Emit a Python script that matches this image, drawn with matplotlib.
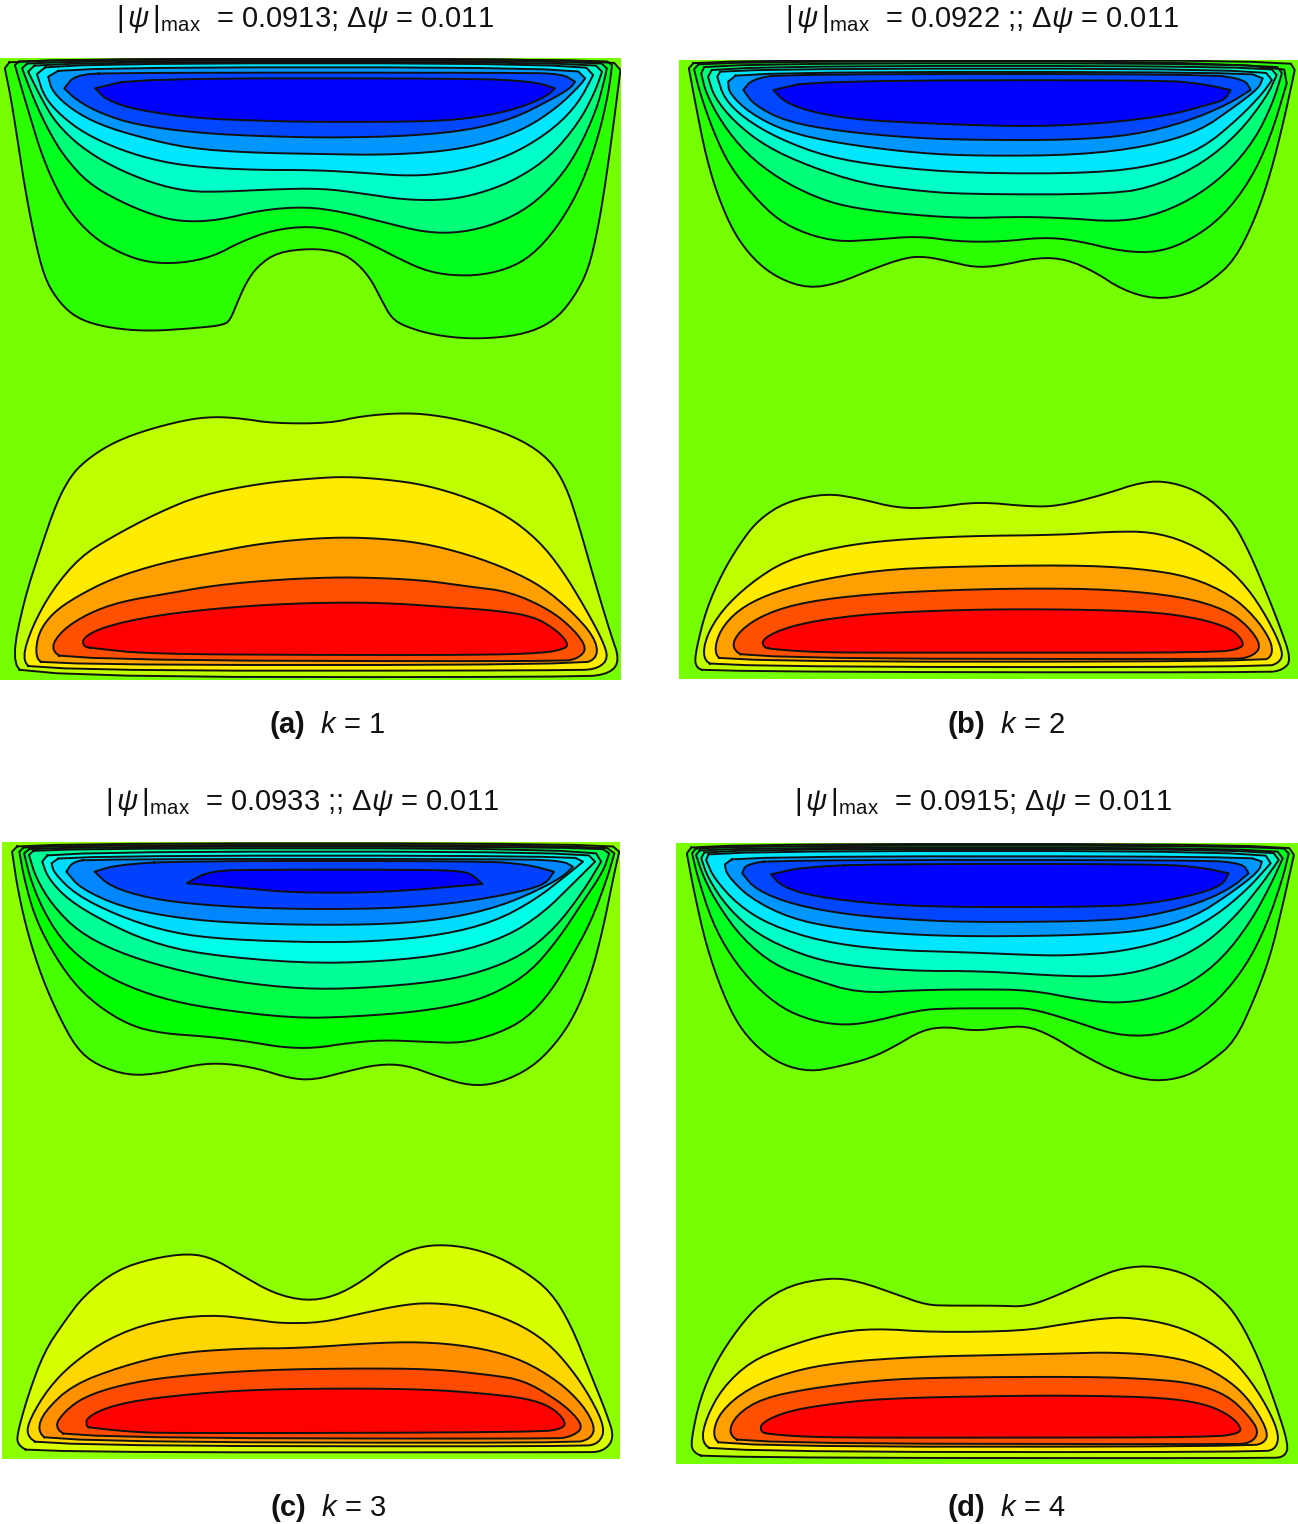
import numpy as np
import matplotlib
matplotlib.use('Agg')
import matplotlib.pyplot as plt

plt.rcParams['font.family'] = ['Liberation Sans', 'DejaVu Sans']
plt.rcParams['mathtext.fontset'] = 'custom'
plt.rcParams['mathtext.rm'] = 'Liberation Sans'
plt.rcParams['mathtext.it'] = 'Liberation Sans:italic'
plt.rcParams['mathtext.bf'] = 'Liberation Sans:bold'

W, H = 1298, 1524

a_top = [
    [(30,26),(12,55),(25,130),(40,240),(60,400),(85,560),(110,680),(140,745),(180,795),(230,822),(300,838),(380,843),(480,835),(560,825),(575,805),(590,760),(612,700),(640,650),(690,607),(775,595),(840,605),(880,630),(920,680),(950,750),(975,805),(1010,830),(1080,855),(1170,867),(1270,860),(1340,838),(1390,800),(1430,740),(1465,660),(1490,530),(1510,380),(1528,220),(1545,60),(1520,26)],
    [(55,28),(37,45),(55,120),(75,200),(100,300),(130,390),(170,480),(230,560),(300,610),(370,638),(450,640),(530,620),(600,575),(680,540),(770,528),(850,545),(920,580),(1000,630),(1060,662),(1120,676),(1200,676),(1280,650),(1340,600),(1400,510),(1450,400),(1490,260),(1515,130),(1524,45),(1505,28)],
    [(75,32),(55,55),(85,150),(120,240),(160,320),(220,400),(300,455),(380,495),(450,515),(540,512),(650,480),(760,470),(850,485),(950,515),(1060,548),(1150,548),(1240,520),(1320,470),(1390,390),(1440,300),(1485,180),(1505,90),(1511,55),(1490,32)],
    [(95,36),(70,65),(105,150),(140,220),(200,290),(280,350),(380,400),(470,425),(560,425),(680,418),(800,415),(900,430),(1010,450),(1120,450),(1210,425),(1290,385),(1370,320),(1440,220),(1480,130),(1499,65),(1475,36)],
    [(125,40),(92,72),(110,140),(150,195),(210,250),(300,300),(400,335),(500,352),(640,360),(780,360),(900,368),(1010,378),(1100,372),(1190,350),(1290,305),(1380,235),(1440,160),(1477,75),(1450,40)],
    [(160,52),(120,80),(130,125),(180,180),(250,225),(350,262),(470,295),(620,308),(800,312),(950,315),(1100,305),(1210,280),(1310,235),(1390,170),(1445,105),(1457,85),(1430,52)],
    [(280,68),(187,75),(160,115),(190,150),(250,190),(340,225),(500,250),(680,260),(840,263),(1020,258),(1170,240),(1280,205),(1370,150),(1420,115),(1432,95),(1400,72),(1300,68)],
    [(340,85),(237,115),(265,150),(340,180),(490,205),(640,212),(780,216),(1080,215),(1200,200),(1290,175),(1360,140),(1382,115),(1330,95),(1180,85)],
]
a_bottom = [
    [(60,830),(30,775),(60,600),(100,450),(140,310),(175,230),(210,185),(270,135),(350,95),(460,60),(530,50),(600,55),(680,70),(820,70),(900,48),(1010,38),(1100,48),(1200,75),(1300,120),(1370,180),(1410,260),(1440,370),(1480,540),(1520,700),(1543,780),(1520,820),(1450,832)],
    [(80,812),(55,775),(80,680),(130,570),(200,470),(280,410),(390,340),(500,285),(650,250),(780,235),(860,230),(960,238),(1060,255),(1170,295),(1260,345),(1340,420),(1400,510),(1460,630),(1500,720),(1515,775),(1490,805),(1440,812)],
    [(110,795),(88,770),(95,700),(130,640),(190,590),(280,535),(400,490),(520,460),(650,430),(800,413),(920,413),(1050,428),(1170,465),(1270,510),(1350,560),(1420,630),(1480,710),(1490,770),(1450,795)],
    [(160,780),(125,745),(155,690),(220,640),(300,605),(420,580),(540,555),(680,540),(800,533),(900,532),(1050,540),(1170,560),(1270,575),(1370,630),(1430,690),(1462,745),(1440,775),(1400,785)],
    [(235,745),(207,740),(207,712),(260,680),(370,650),(500,630),(650,615),(800,608),(950,608),(1100,620),(1240,632),(1330,650),(1385,690),(1412,725),(1412,745),(1350,760),(1180,765),(800,765),(370,762)],
]
b_top = [
    [(65,30),(47,55),(65,170),(90,320),(120,440),(160,550),(210,630),(270,685),(345,715),(420,700),(510,655),(590,622),(640,620),(700,635),(760,652),(820,648),(920,622),(990,628),(1060,665),(1130,720),(1210,748),(1290,735),(1350,695),(1410,630),(1460,510),(1500,370),(1535,200),(1560,60),(1545,30)],
    [(78,34),(60,58),(75,130),(110,250),(150,350),(210,440),(270,510),(340,552),(420,575),(500,570),(620,558),(720,575),(830,575),(930,562),(1010,570),(1130,605),(1220,607),(1300,570),(1380,500),(1450,390),(1500,260),(1540,100),(1530,34)],
    [(90,40),(78,70),(90,130),(130,220),(190,310),(270,385),(360,440),(440,470),(560,490),(730,505),(880,500),(1000,505),(1110,515),(1200,500),(1300,450),(1390,370),(1460,270),(1505,160),(1528,70),(1510,40)],
    [(110,48),(95,80),(110,140),(160,215),(240,290),(350,350),(480,400),(600,420),(730,433),(1110,433),(1220,405),(1330,340),(1420,250),(1490,140),(1515,75),(1495,48)],
    [(130,56),(118,80),(135,145),(185,205),(270,265),(390,320),(540,350),(750,370),(1060,370),(1220,345),(1330,295),(1420,205),(1480,130),(1503,90),(1480,56)],
    [(175,66),(145,95),(148,130),(200,190),(290,245),(420,280),(620,310),(780,318),(1020,315),(1190,290),(1320,245),(1410,170),(1470,115),(1480,85),(1440,66)],
    [(280,72),(205,88),(183,120),(210,165),(290,215),(430,245),(620,265),(780,270),(1000,270),(1160,255),(1290,215),(1390,165),(1450,120),(1435,88),(1340,72)],
    [(360,92),(258,120),(285,155),(350,185),(460,208),(600,218),(820,228),(950,228),(1100,218),(1250,195),(1340,165),(1385,150),(1400,120),(1330,102),(1230,90)],
]
b_bottom = [
    [(90,605),(62,590),(65,540),(90,420),(130,310),(175,220),(220,150),(290,95),(390,70),(470,85),(570,115),(660,113),(770,95),(900,110),(970,108),(1080,75),(1180,35),(1250,35),(1330,70),(1400,145),(1440,230),(1480,340),(1520,460),(1552,570),(1530,600),(1490,608)],
    [(110,590),(82,565),(90,500),(130,420),(200,340),(290,270),(420,230),(550,210),(740,198),(970,195),(1100,185),(1200,185),(1290,215),(1380,280),(1440,350),(1490,440),(1530,540),(1525,575),(1490,592)],
    [(130,575),(110,545),(125,480),(170,420),(240,375),(350,335),(520,300),(700,290),(1000,285),(1170,295),(1300,320),(1400,375),(1460,440),(1500,510),(1505,555),(1480,575)],
    [(190,565),(152,532),(175,480),(240,430),(340,395),(500,372),(700,360),(900,355),(1100,358),(1280,380),(1390,420),(1445,470),(1478,530),(1450,562),(1400,568)],
    [(250,537),(232,530),(232,505),(295,470),(400,445),(540,428),(770,418),(1000,418),(1200,425),(1320,445),(1400,475),(1430,510),(1430,535),(1360,548),(800,548),(440,548),(340,545)],
]
c_top = [
    [(50,25),(30,50),(45,170),(70,300),(105,430),(145,540),(190,640),(240,690),(320,722),(400,715),(490,688),(560,685),(640,700),(720,730),(780,735),(860,710),(940,688),(1010,690),(1090,725),(1170,753),(1240,745),(1320,700),(1380,630),(1430,540),(1470,420),(1500,280),(1525,130),(1540,50),(1515,25)],
    [(65,30),(48,50),(60,130),(85,240),(125,340),(180,440),(240,510),(320,570),(400,595),(520,605),(620,620),(700,637),(780,640),(860,625),(950,615),(1050,620),(1150,625),(1240,595),(1310,550),(1370,470),(1420,370),(1470,260),(1510,130),(1528,55),(1500,30)],
    [(80,35),(60,55),(75,130),(105,220),(150,310),(210,380),(290,440),(400,490),(520,520),(730,550),(880,545),(1040,530),(1160,505),(1240,470),(1320,410),(1390,310),(1450,200),(1500,110),(1515,55),(1490,35)],
    [(90,40),(72,60),(90,130),(130,210),(195,290),(290,350),(420,400),(580,440),(750,462),(900,460),(1090,440),(1200,410),(1300,360),(1380,280),(1450,170),(1495,80),(1475,40)],
    [(125,50),(105,80),(120,130),(170,195),(260,260),(370,320),(500,358),(750,385),(950,380),(1130,355),(1260,305),(1350,235),(1430,140),(1480,80),(1455,50)],
    [(155,62),(128,85),(135,115),(190,180),(290,240),(400,285),(520,310),(750,322),(930,320),(1100,300),(1230,260),(1330,195),(1410,120),(1450,80),(1420,62)],
    [(220,72),(180,82),(165,110),(200,160),(300,215),(420,245),(550,262),(750,270),(970,268),(1120,250),(1240,215),(1330,170),(1400,125),(1425,95),(1400,78),(1290,72)],
    [(440,78),(290,90),(235,110),(275,155),(370,190),(500,210),(700,222),(930,222),(1090,210),(1210,190),(1310,165),(1358,145),(1378,110),(1310,88),(1200,78)],
    [(525,107),(470,140),(465,145),(610,160),(730,173),(950,173),(1200,147),(1180,125),(1155,108),(1030,104),(650,104)],
]
c_bottom = [
    [(75,652),(45,630),(42,600),(70,480),(110,350),(160,260),(210,180),(290,105),(380,70),(470,55),(530,70),(600,120),(680,175),(760,198),(830,185),(900,140),(980,65),(1050,32),(1130,30),(1220,55),(1300,105),(1370,170),(1420,270),(1470,420),(1510,540),(1528,610),(1500,650),(1450,652)],
    [(100,632),(65,600),(75,550),(120,460),(180,385),(270,310),(380,260),(520,238),(640,255),(700,265),(800,263),(900,235),(1000,210),(1070,203),(1170,215),(1280,260),(1360,320),(1420,400),(1470,490),(1505,580),(1490,625),(1450,635)],
    [(120,620),(93,585),(110,530),(180,450),(300,395),(430,355),(600,340),(740,340),(950,322),(1080,322),(1200,340),(1300,375),(1390,440),(1450,510),(1480,575),(1470,610),(1430,625)],
    [(170,608),(135,575),(160,530),(210,485),(300,450),(420,425),(640,405),(880,400),(1080,402),(1220,420),(1300,435),(1380,490),(1430,540),(1450,580),(1420,605),(1380,612)],
    [(225,578),(215,575),(215,548),(270,515),(370,490),(590,465),(850,460),(1060,463),(1200,475),(1310,490),(1370,515),(1405,555),(1403,580),(1340,592),(420,595),(320,590)],
]
d_top = [
    [(60,27),(42,55),(60,170),(90,330),(130,470),(170,570),(220,640),(280,690),(350,710),(420,695),(500,670),(560,635),(630,585),(690,575),(760,588),(830,578),(890,573),(950,600),(1030,660),(1120,715),(1210,740),(1290,725),(1350,680),(1410,620),(1460,490),(1500,360),(1530,210),(1558,60),(1540,27)],
    [(70,32),(55,55),(70,130),(105,260),(150,360),(210,450),(280,520),(350,555),(420,570),(490,565),(620,525),(700,520),(840,520),(900,520),(1000,555),(1110,600),(1210,603),(1290,570),(1370,495),(1440,390),(1490,270),(1530,130),(1545,55),(1525,32)],
    [(80,38),(65,60),(85,130),(120,210),(180,310),(260,390),(350,430),(470,475),(620,465),(770,463),(900,465),(1030,495),(1120,505),(1210,490),(1300,445),(1380,370),(1450,260),(1500,150),(1530,70),(1510,38)],
    [(90,42),(78,70),(95,130),(145,220),(220,300),(330,360),(430,390),(600,408),(780,408),(1000,425),(1120,422),(1220,395),(1320,340),(1400,260),(1470,160),(1520,75),(1500,42)],
    [(100,48),(90,75),(110,130),(170,210),(250,270),(380,320),(540,345),(740,352),(900,360),(990,362),(1130,350),(1260,310),(1360,245),(1440,165),(1500,85),(1480,48)],
    [(165,64),(137,88),(142,120),(200,190),(300,250),(420,280),(580,298),(770,305),(1050,300),(1200,285),(1310,245),(1400,175),(1470,110),(1478,80),(1440,64)],
    [(260,75),(190,88),(180,115),(215,165),(310,210),(450,240),(610,255),(770,262),(1090,258),(1210,240),(1320,205),(1400,160),(1445,115),(1430,85),(1330,75)],
    [(500,87),(330,97),(252,118),(280,155),(360,185),(540,210),(750,217),(1090,215),(1200,205),(1310,180),(1380,150),(1395,115),(1330,98),(1220,87)],
]
d_bottom = [
    [(90,608),(58,592),(52,560),(75,430),(115,320),(170,220),(225,145),(300,90),(400,68),(470,78),(570,120),(640,150),(700,152),(820,152),(890,155),(960,125),(1060,70),(1130,38),(1210,32),(1300,60),(1370,120),(1420,190),(1470,310),(1510,440),(1545,570),(1535,605),(1500,610)],
    [(110,590),(78,560),(90,490),(130,400),(200,320),(290,275),(400,235),(510,220),(660,232),(880,228),(980,208),(1080,190),(1150,187),(1260,210),(1350,260),(1420,330),(1480,430),(1520,530),(1515,580),(1480,592)],
    [(130,575),(105,540),(125,470),(195,400),(300,350),(420,322),(620,305),(830,300),(1000,295),(1100,292),(1220,300),(1320,325),(1400,380),(1450,440),(1490,520),(1490,560),(1450,575)],
    [(180,565),(145,535),(165,480),(230,430),(350,400),(520,375),(690,367),(1050,365),(1200,372),(1310,385),(1390,420),(1440,475),(1472,530),(1450,565),(1400,568)],
    [(245,537),(226,530),(228,503),(290,470),(380,450),(530,430),(860,422),(1050,422),(1230,428),(1330,445),(1390,475),(1423,510),(1425,535),(1350,547),(800,548),(460,548),(330,545)],
]

psi_max = ['0.0913', '0.0922', '0.0933', '0.0915']
separators = [';', ' ;;', ' ;;', ';']
k_values = [1, 2, 3, 4]
panel_letters = ['a', 'b', 'c', 'd']

top_colors = ['#2BFF00', '#00FF1E', '#00FF78', '#00FFC8', '#00E6FF', '#0096FF', '#0046FF', '#0000FF']
top_colors_c = ['#46FF00', '#00FF00', '#00FF46', '#00FF96', '#00FFE6', '#00DCFF', '#0087FF', '#0041FF', '#0000FF']
bottom_colors = ['#BEFF00', '#FFEB00', '#FFA000', '#FF5000', '#FF0000']
bottom_colors_c = ['#D7FF00', '#FFD700', '#FF9100', '#FF4B00', '#FF0000']

# panel box in image pixels: left, right, top, bottom
boxes = [(0, 621, 58, 680), (679, 1298, 60, 679), (2, 620, 842, 1459), (676, 1298, 843, 1464)]
# crop origin and scale of the reading: x0, x scale, top y0, bottom y0
read_scale = [(0, 2.49, 50, 400), (670, 2.497, 50, 470), (0, 2.487, 835, 1235), (670, 2.497, 835, 1255)]
title_pos = [(305, 19), (982, 19), (302, 802), (983, 802)]
caption_pos = [(327, 725), (1006, 725), (328, 1508), (1006, 1508)]


def chaikin(x, y, n=2):
    # corner cutting on the closed outline, the crops show rounded corners
    for _ in range(n):
        x1, y1 = np.roll(x, -1), np.roll(y, -1)
        x = np.column_stack([0.75 * x + 0.25 * x1, 0.25 * x + 0.75 * x1]).ravel()
        y = np.column_stack([0.75 * y + 0.25 * y1, 0.25 * y + 0.75 * y1]).ravel()
    return x, y


def draw_levels(ax, levels, colors, x0, sx, y0, sharp):
    for pts, col in zip(levels, colors):
        pts = np.array(pts, dtype=float)
        if sharp:
            # repeat the side tips so that they stay pointed after smoothing
            tips = [int(np.argmin(pts[:, 0])), int(np.argmax(pts[:, 0]))]
            pts = np.repeat(pts, [2 if j in tips else 1 for j in range(len(pts))], axis=0)
        x, y = chaikin(x0 + pts[:, 0] / sx, y0 + pts[:, 1] / 3)
        ax.fill(x, y, color=col, lw=0)
        ax.plot(np.append(x, x[0]), np.append(y, y[0]), color='#111111', lw=1.4)


fig = plt.figure(figsize=(W / 100, H / 100), dpi=100)
tops = [a_top, b_top, c_top, d_top]
bottoms = [a_bottom, b_bottom, c_bottom, d_bottom]

for i in range(4):
    left, right, top, bottom = boxes[i]
    ax = fig.add_axes([left / W, 1 - bottom / H, (right - left) / W, (bottom - top) / H])
    ax.set_xlim(left, right)
    ax.set_ylim(bottom, top)
    ax.axis('off')
    bg = '#8CFF00' if i == 2 else '#76FF00'
    ax.add_patch(plt.Rectangle((left, top), right - left, bottom - top, color=bg, lw=0))
    x0, sx, y_top, y_bot = read_scale[i]
    draw_levels(ax, tops[i], top_colors_c if i == 2 else top_colors, x0, sx, y_top, True)
    draw_levels(ax, bottoms[i], bottom_colors_c if i == 2 else bottom_colors, x0, sx, y_bot, False)

    tx, ty = title_pos[i]
    title = (r'$\mathregular{|}\,\psi\,\mathregular{|_{max}}$  = ' + psi_max[i] + separators[i]
             + r' $\mathregular{\Delta}\psi$ = 0.011')
    fig.text(tx / W, 1 - ty / H, title, ha='center', va='center', fontsize=21, color='#111111')
    cx, cy = caption_pos[i]
    caption = r'$\mathbf{(' + panel_letters[i] + r')}$  $k$ = ' + str(k_values[i])
    fig.text(cx / W, 1 - cy / H, caption, ha='center', va='center', fontsize=21, color='#111111')

fig.savefig('out.png', dpi=100)
